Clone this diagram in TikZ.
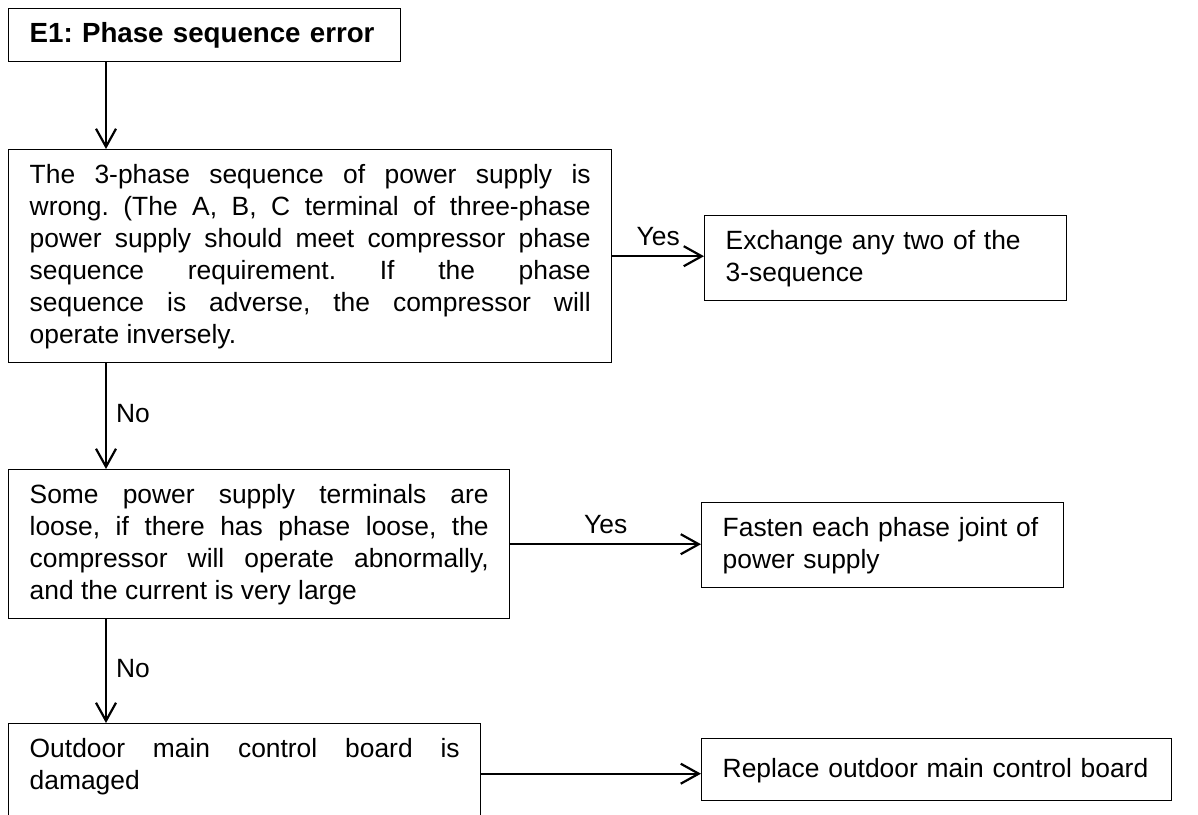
\documentclass[tikz,border=0pt]{standalone}
\usepackage{fontspec}
\setmainfont{Liberation Sans}
\usetikzlibrary{arrows.meta}
\tolerance=10000
\hbadness=10000
\frenchspacing
\newcommand{\lstrut}{\rule[-4.15pt]{0pt}{16pt}}

\begin{document}
\begin{tikzpicture}[
  x=0.5pt, y=-0.5pt,
  box/.style={draw, line width=0.7pt, anchor=north west, inner xsep=10.5pt, inner ysep=5.25pt,
    font=\fontsize{13.2pt}{16pt}\selectfont, align=justify},
  flow/.style={line width=1.1pt, -{Straight Barb[length=9pt,width=10pt,line width=1.1pt]}},
  tag/.style={font=\fontsize{13.2pt}{16pt}\selectfont, inner sep=4.5pt}]

    \useasboundingbox (0,0) rectangle (1198,814);
    \clip (0,0) rectangle (1198,814);

    \coordinate (spine) at (106,0);

    \node[box, align=left, text width=175pt, font=\fontsize{13.85pt}{16pt}\selectfont\bfseries] at (8,8) (err) {\lstrut E1: Phase sequence error};
    \node[box, text width=280.5pt] at (8,149) (phase) {\lstrut The 3-phase sequence of power supply is\linebreak wrong. (The A, B, C terminal of three-phase\linebreak power supply should meet compressor phase\linebreak sequence requirement. If the phase\linebreak sequence is adverse, the compressor will\linebreak operate inversely.\lstrut};
    \node[box, align=left, text width=160pt] at (704,214.5) (swap) {\lstrut Exchange any two of the\\ 3-sequence\lstrut};
    \node[box, text width=229.5pt] at (8,469) (loose) {\lstrut Some power supply terminals are\linebreak loose, if there has phase loose, the\linebreak compressor will operate abnormally,\linebreak and the current is very large\lstrut};
    \node[box, align=left, text width=160pt] at (701,502) (fasten) {\lstrut Fasten each phase joint of\\ power supply\lstrut};
    \node[box, text width=215pt] at (8,723) (board) {\lstrut Outdoor main control board is\linebreak damaged\rule[-11.65pt]{0pt}{1pt}};
    \node[box, align=left, text width=214pt, minimum height=31pt] at (701,738) (replace) {\lstrut Replace outdoor main control board};

    \draw[flow] (err.south -| spine) -- (phase.north -| spine);
    \draw[flow] (phase.east) -- (phase.east -| swap.west) node[tag, midway, above] {Yes};
    \draw[flow] (phase.south -| spine) -- (loose.north -| spine) node[tag, midway, right, yshift=1.5pt] {No};
    \draw[flow] (loose.east) -- (loose.east -| fasten.west) node[tag, midway, above] {Yes};
    \draw[flow] (loose.south -| spine) -- (board.north -| spine) node[tag, midway, right, yshift=1.5pt] {No};
    \draw[flow] (board.east) -- (board.east -| replace.west);

\end{tikzpicture}
\end{document}
